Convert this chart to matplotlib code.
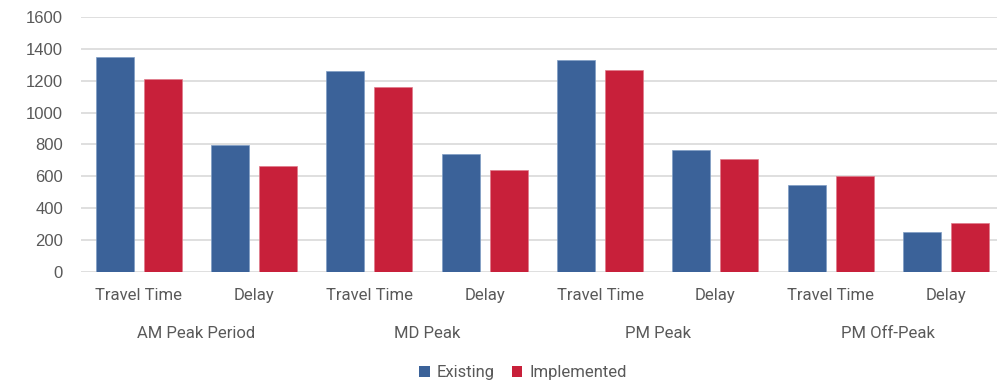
import numpy as np
import matplotlib
matplotlib.use("Agg")
import matplotlib.pyplot as plt
from matplotlib.patches import Patch
import matplotlib.transforms as mtransforms

periods = ["AM Peak Period", "MD Peak", "PM Peak", "PM Off-Peak"]
measures = ["Travel Time", "Delay"]
existing = [1348, 798, 1263, 741, 1328, 764, 546, 251]
implemented = [1213, 665, 1158, 637, 1267, 706, 599, 304]

blue = "#3B6299"
red = "#C8203A"
text_col = "#595959"
narrow = ["Liberation Sans Narrow", "Roboto", "DejaVu Sans"]

fig = plt.figure(figsize=(9.97, 3.84), dpi=100)
ax = fig.add_axes([81 / 997, 1 - 271.7 / 384, 922.7 / 997, 254.7 / 384])

x = np.arange(len(existing))
w = 0.33
off = 0.209
ax.bar(x - off, existing, w, color=blue, edgecolor="#7f9cc4", linewidth=0.5, zorder=3)
ax.bar(x + off, implemented, w, color=red, edgecolor="#e07a8a", linewidth=0.5, zorder=3)

ax.set_xlim(-0.5, len(existing) - 0.5)
ax.set_ylim(0, 1600)
ax.set_yticks(range(0, 1601, 200))
ax.yaxis.grid(True, color="#d9d9d9", linewidth=1.2, zorder=0)
ax.set_axisbelow(True)
for s in ax.spines.values():
    s.set_visible(False)
ax.tick_params(axis="both", length=0, colors=text_col)
ax.tick_params(axis="y", pad=13, labelsize=12)
for lab in ax.get_yticklabels():
    lab.set_family(["Liberation Sans", "DejaVu Sans"])

ax.set_xticks(x)
ax.set_xticklabels(measures * len(periods), family=narrow, fontsize=12, color=text_col)
ax.tick_params(axis="x", pad=12)

# period names under each pair of measures
trans = mtransforms.blended_transform_factory(ax.transData, ax.transAxes)
for i, p in enumerate(periods):
    ax.text(2 * i + 0.5, -0.241, p, transform=trans, ha="center", va="center",
            family=narrow, fontsize=12, color=text_col)

handles = [Patch(facecolor=blue, label="Existing"), Patch(facecolor=red, label="Implemented")]
fig.legend(handles=handles, loc="center", bbox_to_anchor=(523 / 997, 1 - 373 / 384),
           ncol=2, frameon=False, handlelength=0.65, handleheight=0.65,
           handletextpad=0.4, columnspacing=1.0,
           prop={"family": narrow, "size": 12}, labelcolor=text_col)

fig.savefig("out.png", dpi=100)
